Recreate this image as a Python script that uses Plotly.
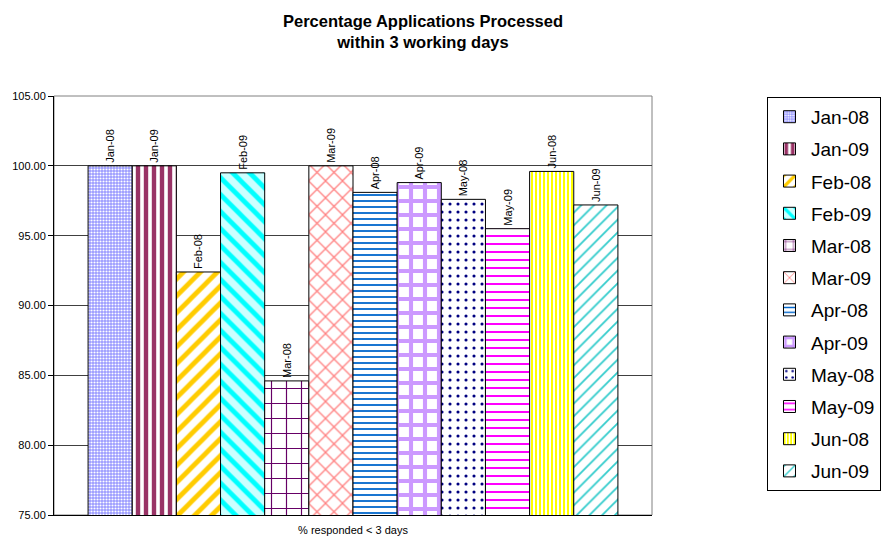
import plotly.graph_objects as go

# Data: share of applications processed within 3 working days, by month
category = "% responded < 3 days"
months = ["Jan-08", "Jan-09", "Feb-08", "Feb-09", "Mar-08", "Mar-09",
          "Apr-08", "Apr-09", "May-08", "May-09", "Jun-08", "Jun-09"]
values = [100.0, 100.0, 92.4, 99.5, 84.6, 100.0,
          98.1, 98.8, 97.6, 95.5, 99.6, 97.2]

# Fill pattern per series: (shape, foreground, background, size, solidity)
patterns = [
    (".", "#FFFFFF", "#9999FF", 3, 0.4),
    ("|", "#993366", "#FFFFFF", 8, 0.55),
    ("/", "#FFCC00", "#FFFFFF", 12, 0.4),
    ("\\", "#00FFFF", "#CCFFFF", 12, 0.4),
    ("+", "#660066", "#FFFFFF", 15, 0.15),
    ("x", "#FF8080", "#FFFFFF", 12, 0.2),
    ("-", "#0066CC", "#FFFFFF", 6, 0.3),
    ("+", "#CC99FF", "#FFFFFF", 14, 0.5),
    (".", "#000080", "#FFFFFF", 8, 0.12),
    ("-", "#FF00FF", "#FFFFFF", 8, 0.25),
    ("|", "#FFFF00", "#FFFFFF", 4, 0.5),
    ("/", "#33CCCC", "#FFFFFF", 9, 0.2),
]

fig = go.Figure()
for name, val, (shape, fg, bg, size, sol) in zip(months, values, patterns):
    fig.add_trace(go.Bar(
        name=name,
        legendgroup=name,
        x=[category],
        y=[val],
        text=[name],
        textposition="outside",
        textangle=-90,
        textfont=dict(family="Liberation Sans, Arial", size=11, color="#000000"),
        cliponaxis=False,
        marker=dict(
            color=bg,
            line=dict(color="#000000", width=1),
            pattern=dict(shape=shape, fgcolor=fg, bgcolor=bg,
                         size=size, solidity=sol, fillmode="replace"),
        ),
    ))

fig.update_layout(
    width=887, height=539,
    barmode="group",
    bargap=0.114,
    bargroupgap=0,
    paper_bgcolor="#FFFFFF",
    plot_bgcolor="#FFFFFF",
    margin=dict(l=54, r=235, t=96, b=24, autoexpand=False),
    font=dict(family="Liberation Sans, Arial", color="#000000"),
    title=dict(
        text="<b>Percentage Applications Processed<br>within 3 working days</b>",
        x=423 / 887, xanchor="center",
        yref="container", y=1 - 27 / 539, yanchor="middle",
        font=dict(size=16.5, family="Liberation Sans, Arial"),
    ),
    uniformtext=dict(mode=False),
    legend=dict(
        x=1.1923, xanchor="left",
        y=0.998, yanchor="top",
        bordercolor="#000000", borderwidth=1,
        bgcolor="#FFFFFF",
        font=dict(size=19, family="Liberation Sans, Arial"),
        traceorder="grouped",
        tracegroupgap=4.5,
        itemwidth=33,
    ),
    shapes=[dict(type="rect", xref="paper", yref="paper", x0=0, x1=1, y0=0, y1=1,
                 line=dict(color="#808080", width=1), layer="below")],
)

fig.update_xaxes(
    type="category",
    showgrid=False,
    showline=True, linecolor="#000000", linewidth=1,
    ticks="", tickfont=dict(size=11),
    ticklabelstandoff=5,
    automargin=False,
)
fig.update_yaxes(
    range=[75, 105],
    dtick=5,
    tickformat=".2f",
    showgrid=True, gridcolor="#404040", gridwidth=1,
    showline=True, linecolor="#000000", linewidth=1,
    ticks="outside", ticklen=5, tickcolor="#000000",
    tickfont=dict(size=11),
    zeroline=False,
    automargin=False,
)

fig.write_html("out.html")
